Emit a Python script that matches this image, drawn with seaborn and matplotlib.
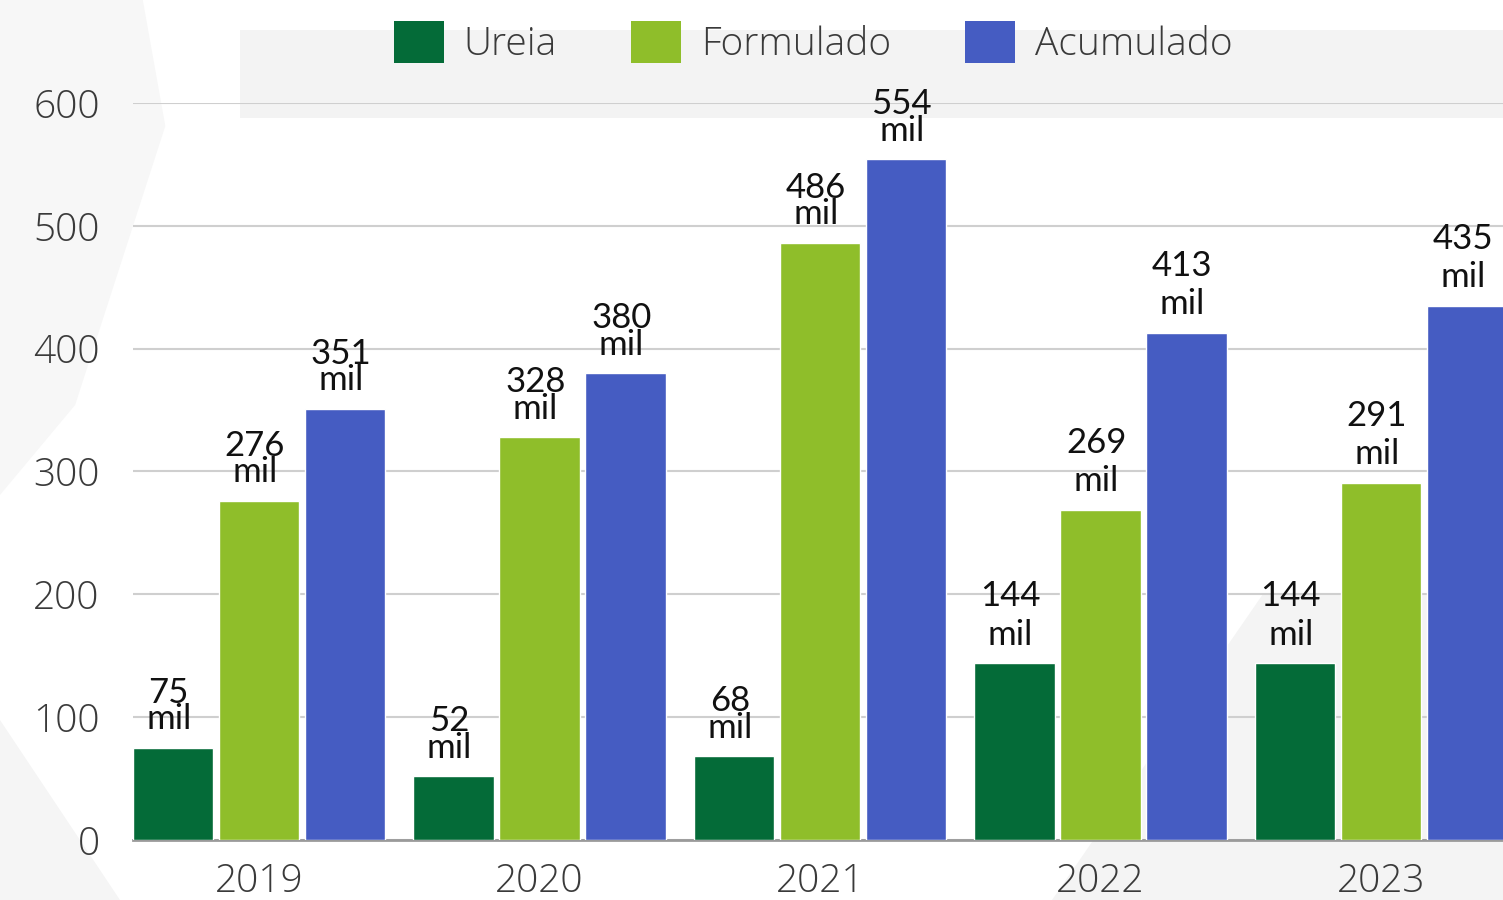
import matplotlib
matplotlib.use("Agg")
import matplotlib.pyplot as plt
import seaborn as sns
import pandas as pd
from matplotlib.patches import Polygon, Patch

years = ["2019", "2020", "2021", "2022", "2023"]
series = ["Ureia", "Formulado", "Acumulado"]
ureia = [75, 52, 68, 144, 144]
formulado = [276, 328, 486, 269, 291]
acumulado = [351, 380, 554, 413, 435]
yticks = [0, 100, 200, 300, 400, 500, 600]
colors = ["#046b38", "#8fbe2a", "#455cc2"]

values = {"Ureia": ureia, "Formulado": formulado, "Acumulado": acumulado}
rows = []
for s in series:
    for y, v in zip(years, values[s]):
        rows.append({"Ano": y, "Série": s, "Valor": v})
df = pd.DataFrame(rows)

sns.set_theme(style="white")
plt.rcParams["font.family"] = ["Open Sans", "DejaVu Sans"]

fig = plt.figure(figsize=(15.03, 9.0), dpi=100)
fig.patch.set_facecolor("white")

# faint decorative background shapes (behind everything)
bg_ax = fig.add_axes([0, 0, 1, 1], zorder=-10)
bg_ax.set_xlim(0, 1)
bg_ax.set_ylim(0, 1)
bg_ax.axis("off")
bg_ax.add_patch(Polygon([[0.0, 1.0], [0.095, 1.0], [0.11, 0.86], [0.05, 0.55], [0.0, 0.45]],
                        closed=True, facecolor="#f7f7f7", edgecolor="none"))
bg_ax.add_patch(Polygon([[0.16, 0.967], [1.0, 0.967], [1.0, 0.869], [0.16, 0.869]],
                        closed=True, facecolor="#f3f3f3", edgecolor="none"))
bg_ax.add_patch(Polygon([[0.08, 0.0], [0.0, 0.0], [0.0, 0.2]],
                        closed=True, facecolor="#f5f5f5", edgecolor="none"))
bg_ax.add_patch(Polygon([[0.70, 0.0], [1.0, 0.0], [1.0, 0.34], [0.84, 0.34]],
                        closed=True, facecolor="#f4f4f4", edgecolor="none"))

ax = fig.add_axes([0.0885, 0.0667, 0.9115, 0.8189])
ax.set_facecolor("none")

sns.barplot(data=df, x="Ano", y="Valor", hue="Série", hue_order=series,
            order=years, palette=colors, width=0.92, gap=0.06,
            saturation=1, ax=ax, legend=False, zorder=3)

ax.set_xlim(-0.449, 4.435)
ax.set_ylim(0, 600)
ax.set_yticks(yticks)
ax.set_xlabel("")
ax.set_ylabel("")
for sp in ["left", "right", "top"]:
    ax.spines[sp].set_visible(False)
ax.spines["bottom"].set_color("#9a9a9a")
ax.spines["bottom"].set_linewidth(2)
ax.grid(axis="y", color="#cfcfcf", linewidth=1.5, zorder=0)
ax.set_axisbelow(True)
ax.tick_params(axis="y", length=0, pad=24, labelsize=28, labelcolor="#3a3a3a")
ax.tick_params(axis="x", length=0, pad=16, labelsize=28, labelcolor="#3a3a3a")
for t in ax.get_xticklabels() + ax.get_yticklabels():
    t.set_fontweight("light")

# value labels
for container, s in zip(ax.containers, series):
    for i, bar in enumerate(container):
        v = values[s][i]
        compact = i < 3
        ax.annotate(f"{v}\nmil",
                    xy=(bar.get_x() + bar.get_width() / 2, bar.get_height()),
                    xytext=(-3, 9), textcoords="offset points",
                    ha="center", va="bottom", fontsize=25,
                    linespacing=0.8 if compact else 1.25,
                    family=["Lato", "DejaVu Sans"], color="#111111",
                    annotation_clip=False, zorder=5)

# legend
handles = [Patch(facecolor=c, edgecolor="none") for c in colors]
leg = fig.legend(handles, series, loc="center", bbox_to_anchor=(0.541, 0.953),
                 ncol=3, frameon=False, fontsize=28, handlelength=1.3,
                 handleheight=1.3, handletextpad=0.5, columnspacing=1.9)
for t in leg.get_texts():
    t.set_color("#3a3a3a")
    t.set_fontweight("light")

fig.savefig("out.png", dpi=100, facecolor=fig.get_facecolor())
